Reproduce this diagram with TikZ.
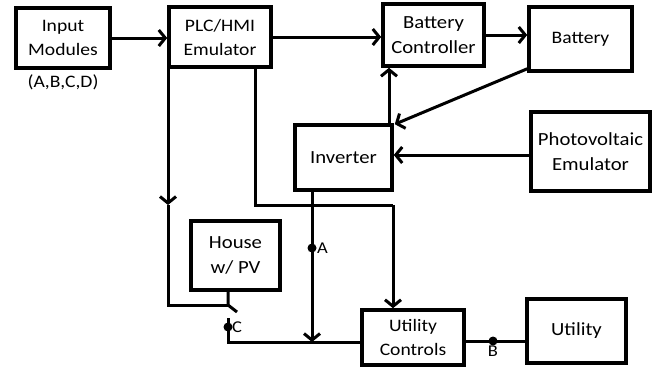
\documentclass[tikz,border=0pt]{standalone}
\usepackage{fontspec}
\setmainfont{Carlito}[FakeStretch=1.12]
\usetikzlibrary{arrows.meta}
\begin{document}
\begin{tikzpicture}[x=1pt,y=1pt,
  blk/.style={draw,line width=3.6pt,align=center,inner sep=0pt,font=\fontsize{17.5}{24}\selectfont},
  big/.style={font=\fontsize{18.5}{25}\selectfont},
  wire/.style={line width=3pt},
  arr/.style={wire,-{Straight Barb[length=6.5pt,width=16pt]}},
  lbl/.style={font=\fontsize{16.5}{18}\selectfont,inner sep=1pt},
  dot/.style={circle,fill,inner sep=0pt,minimum size=9pt}]
\useasboundingbox (0,0) rectangle (659,-373);
\node[blk,minimum width=94,minimum height=60] (in) at (63,-38) {Input\\Modules};
\node[blk,minimum width=102,minimum height=60] (plc) at (220,-37) {PLC/HMI\\Emulator};
\node[blk,big,minimum width=101,minimum height=62] (bc) at (433.5,-35) {Battery\\Controller};
\node[blk,minimum width=103,minimum height=64] (bat) at (580.5,-39) {Battery};
\node[blk,big,minimum width=97,minimum height=65] (inv) at (343.5,-157.5) {Inverter};
\node[blk,big,minimum width=119,minimum height=79] (pv) at (590.5,-151.5) {Photovoltaic\\Emulator};
\node[blk,big,minimum width=89,minimum height=69] (house) at (235.5,-255.5) {House\\w/ PV};
\node[blk,minimum width=102,minimum height=55] (uc) at (413,-337.5) {Utility\\Controls};
\node[blk,big,minimum width=99,minimum height=64] (ut) at (576.5,-331) {Utility};
\node[lbl,font=\fontsize{17.5}{19}\selectfont] (abcd) at (63,-82) {(A,B,C,D)};
% coordinates
\coordinate (l1) at (168,-205);
\coordinate (l2) at (168,-305);
\coordinate (sw1) at (228,-305);
\coordinate (sw2) at (237,-312);
\coordinate (cc) at (228,-318);
\coordinate (cdot) at (228,-327);
\coordinate (cbot) at (228,-342);
\coordinate (r1) at (255,-205);
\coordinate (r2) at (393,-205);
\coordinate (abot) at (312,-342);
\coordinate (adot) at (312,-248);
\coordinate (bdot) at (493,-341);
\coordinate (ib) at (389,0);
% connectors
\draw[arr] (in.east) -- (in.east -| plc.west);
\draw[arr] (plc.east) -- (plc.east -| bc.west);
\draw[arr] (bc.east) -- (bc.east -| bat.west);
\draw[arr] ([yshift=4pt]bat.south west) -- ([xshift=1pt,yshift=-1pt]inv.north east);
\draw[arr] (ib |- inv.north) -- (ib |- bc.south);
\draw[arr] ([yshift=-3.5pt]pv.west) -- ([yshift=-3.5pt]pv.west -| inv.east);
\draw[arr] (l1 |- plc.south) -- (l1);
\draw[wire] (l1) -- (l2) -- (sw1);
\draw[wire] (sw1 |- house.south) -- (sw1) -- (sw2);
\draw[wire] (cc) -- (cbot) -- (cbot -| uc.west);
\node[dot] (cd) at (cdot) {};
\node[lbl,anchor=west] (clbl) at ([xshift=3pt]cdot) {C};
\draw[wire] (r1 |- plc.south) -- (r1) -- (r2);
\draw[arr] (r2) -- (r2 |- uc.north);
\draw[arr] (abot |- inv.south) -- (abot);
\node[dot] (ad) at (adot) {};
\node[lbl,anchor=west] (albl) at ([xshift=4pt]adot) {A};
\draw[wire] (bdot -| uc.east) -- (bdot -| ut.west);
\node[dot] (bd) at (bdot) {};
\node[lbl,anchor=north] (blbl) at ([yshift=-4pt]bdot) {B};
\end{tikzpicture}
\end{document}
